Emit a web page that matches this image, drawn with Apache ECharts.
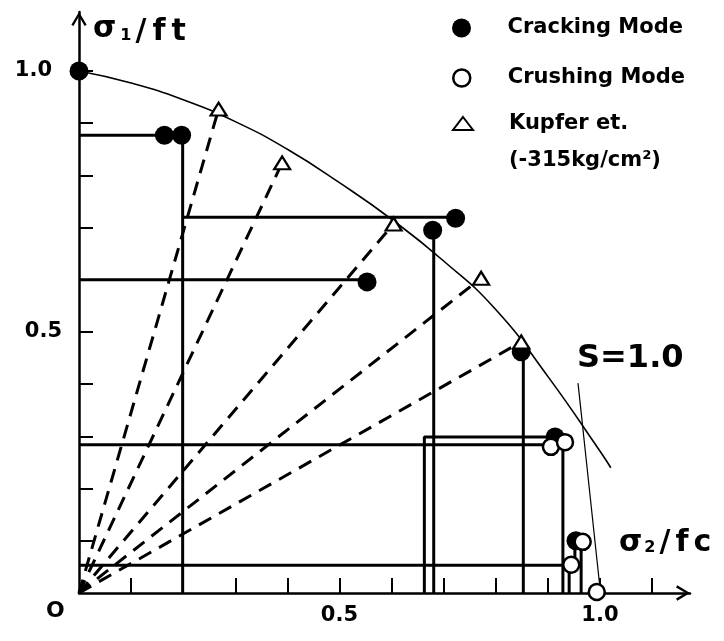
<!DOCTYPE html>
<html>
<head>
<meta charset="utf-8">
<script src="https://cdn.jsdelivr.net/npm/echarts@6/dist/echarts.min.js"></script>
<style>
  html, body { margin: 0; padding: 0; background: #fff; }
  #chart { width: 724px; height: 641px; }
</style>
</head>
<body>
<div id="chart"></div>
<script>
// Biaxial strength envelope, normalised stresses (σ2/fc, σ1/ft)
const envelope = [
  [0, 1.0], [0.1, 0.977], [0.2, 0.945], [0.3, 0.903], [0.4, 0.850], [0.5, 0.786],
  [0.6, 0.716], [0.7, 0.636], [0.8, 0.543], [0.9, 0.415], [1.0, 0.272], [1.021, 0.240]
];
// S = 1.0 line
const strengthLine = [[0.958, 0.402], [1.0, 0.011]];
// Test results
const crackingPoints = [
  [0, 1.0], [0.164, 0.877], [0.197, 0.877], [0.553, 0.596], [0.723, 0.718],
  [0.679, 0.695], [0.849, 0.462], [0.914, 0.299], [0.954, 0.100]
];
const crushingPoints = [
  [0.906, 0.280], [0.933, 0.289], [0.945, 0.054], [0.967, 0.098], [0.994, 0.002]
];
// Kupfer et al. (-315 kg/cm2), reached along proportional load paths
const kupferPoints = [
  [0.268, 0.927], [0.390, 0.824], [0.604, 0.707], [0.772, 0.603], [0.849, 0.481]
];
// Stepped load paths of the specimens
const loadPaths = [
  [[0, 0.877], [0.197, 0.877]],
  [[0.199, 0.877], [0.199, 0]],
  [[0.199, 0.720], [0.723, 0.720]],
  [[0, 0.600], [0.553, 0.600]],
  [[0.681, 0.695], [0.681, 0]],
  [[0.853, 0.462], [0.853, 0]],
  [[0.663, 0], [0.663, 0.299], [0.914, 0.299]],
  [[0, 0.284], [0.906, 0.284]],
  [[0.929, 0.289], [0.929, 0]],
  [[0, 0.053], [0.945, 0.053]],
  [[0.941, 0.054], [0.941, 0]],
  [[0.952, 0.100], [0.952, 0.054]],
  [[0.964, 0.098], [0.964, 0]]
];
const xTicks = [0.1, 0.2, 0.3, 0.4, 0.5, 0.6, 0.7, 0.8, 0.9, 1.0, 1.1];
const yTicks = [0.1, 0.2, 0.3, 0.4, 0.5, 0.6, 0.7, 0.8, 0.9, 1.0];
const xLabels = [0.5, 1.0];
const yLabels = [0.5, 1.0];

const FONT = '"DejaVu Sans", sans-serif';
const INK = '#000';
const chevron = 'path://M0,10 L6,0 L12,10 L10.4,11 L6,3.4 L1.6,11 Z';

const series = [];

// proportional load paths to Kupfer's points
kupferPoints.forEach(function (p, i) {
  series.push({
    name: 'radial' + i, type: 'line', data: [[0, 0], p], showSymbol: false, silent: true,
    lineStyle: { color: INK, width: 3, type: [14, 9] }, z: 1
  });
});
loadPaths.forEach(function (path, i) {
  series.push({
    name: 'path' + i, type: 'line', data: path, showSymbol: false, silent: true,
    lineStyle: { color: INK, width: 3 }, z: 2
  });
});
series.push({
  name: 'envelope', type: 'line', data: envelope, smooth: 0.5,
  showSymbol: false, silent: true,
  lineStyle: { color: INK, width: 1.6 }, z: 3
});
series.push({
  name: 'S=1.0', type: 'line', data: strengthLine, showSymbol: false, silent: true,
  lineStyle: { color: INK, width: 1.2 }, z: 3
});
series.push({
  name: 'Cracking Mode', type: 'scatter', data: crackingPoints, symbol: 'circle', symbolSize: 19,
  itemStyle: { color: INK, opacity: 1 }, silent: true, z: 5
});
series.push({
  name: 'Crushing Mode', type: 'scatter', data: crushingPoints, symbol: 'circle', symbolSize: 16,
  itemStyle: { color: '#fff', borderColor: INK, borderWidth: 2.5, opacity: 1 }, silent: true, z: 6
});
series.push({
  name: 'Kupfer et.', type: 'scatter', data: kupferPoints, symbol: 'triangle', symbolSize: [16, 13],
  itemStyle: { color: '#fff', borderColor: INK, borderWidth: 2.2, opacity: 1 }, silent: true, z: 7
});

const legendText = { fontFamily: FONT, fontWeight: 'bold', fontSize: 21, color: INK };

const option = {
  backgroundColor: '#fff',
  animation: false,
  grid: { left: 79, top: 12, width: 611, height: 581 },
  xAxis: {
    type: 'value', min: 0, max: 1.173,
    splitLine: { show: false },
    axisLine: { lineStyle: { color: INK, width: 2.5 }, symbol: ['none', chevron], symbolSize: [16, 14], symbolOffset: [0, -7] },
    axisTick: { inside: true, length: 15, customValues: xTicks, lineStyle: { color: INK, width: 2 } },
    axisLabel: {
      customValues: xLabels, margin: 12, color: INK, fontFamily: FONT, fontWeight: 'bold', fontSize: 21,
      formatter: function (v) { return v.toFixed(1); }
    }
  },
  yAxis: {
    type: 'value', min: 0, max: 1.113,
    splitLine: { show: false },
    axisLine: { lineStyle: { color: INK, width: 2.5 }, symbol: ['none', chevron], symbolSize: [16, 14], symbolOffset: [0, -7] },
    axisTick: { inside: true, length: 14, customValues: yTicks, lineStyle: { color: INK, width: 2 } },
    axisLabel: {
      customValues: yLabels, margin: 17, color: INK, fontFamily: FONT, fontWeight: 'bold', fontSize: 21,
      formatter: function (v) { return v === 1 ? '{far|' + v.toFixed(1) + '}' : v.toFixed(1); },
      rich: { far: { padding: [0, 10, 0, 0], color: INK, fontFamily: FONT, fontWeight: 'bold', fontSize: 21 } }
    }
  },
  legend: [
    {
      data: ['Cracking Mode'], left: 452, top: 16, orient: 'vertical', padding: 0, selectedMode: false,
      itemWidth: 20, itemHeight: 19,
      textStyle: Object.assign({ lineHeight: 24, padding: [0, 0, 0, 31] }, legendText)
    },
    {
      data: ['Crushing Mode'], left: 452, top: 66, orient: 'vertical', padding: 0, selectedMode: false,
      itemWidth: 20, itemHeight: 17,
      itemStyle: { color: '#fff', borderColor: INK, borderWidth: 2.5 },
      textStyle: Object.assign({ lineHeight: 24, padding: [0, 0, 0, 31] }, legendText)
    },
    {
      data: ['Kupfer et.'], left: 452, top: 68, orient: 'vertical', padding: 0, selectedMode: false,
      itemWidth: 20, itemHeight: 13,
      itemStyle: { color: '#fff', borderColor: INK, borderWidth: 2 },
      // blank first line keeps the icon level with "Kupfer et."
      formatter: function (name) { return '\n' + name + '\n(-315kg/cm²)'; },
      textStyle: Object.assign({ lineHeight: 37, padding: [0, 0, 0, 31] }, legendText)
    }
  ],
  graphic: [
    {
      type: 'text', left: 93, top: 14,
      style: {
        text: '{s|σ}{b|1}{n|/}{f|f}{f|t}',
        rich: {
          s: { fontFamily: FONT, fontWeight: 'bold', fontSize: 30, fill: INK, padding: [0, 3, 6, 0] },
          b: { fontFamily: FONT, fontWeight: 'bold', fontSize: 16, fill: INK, padding: [8, 4, 0, 1] },
          n: { fontFamily: FONT, fontWeight: 'bold', fontSize: 30, fill: INK, padding: [0, 4, 0, 0] },
          f: { fontFamily: FONT, fontWeight: 'bold', fontSize: 30, fill: INK, padding: [0, 4, 0, 2] }
        }
      }
    },
    {
      type: 'text', left: 619, top: 528,
      style: {
        text: '{s|σ}{b|2}{n|/}{f|f}{f|c}',
        rich: {
          s: { fontFamily: FONT, fontWeight: 'bold', fontSize: 30, fill: INK, padding: [0, 2, 0, 0] },
          b: { fontFamily: FONT, fontWeight: 'bold', fontSize: 16, fill: INK, padding: [10, 4, 0, 0] },
          n: { fontFamily: FONT, fontWeight: 'bold', fontSize: 30, fill: INK, padding: [0, 3, 0, 0] },
          f: { fontFamily: FONT, fontWeight: 'bold', fontSize: 30, fill: INK, padding: [0, 3, 0, 2] }
        }
      }
    },
    {
      type: 'text', left: 577, top: 343,
      style: { text: 'S=1.0', fontFamily: FONT, fontWeight: 'bold', fontSize: 32, fill: INK }
    },
    {
      type: 'text', left: 46, top: 600,
      style: { text: 'O', fontFamily: FONT, fontWeight: 'bold', fontSize: 22, fill: INK }
    }
  ],
  series: series
};

const chart = echarts.init(document.getElementById('chart'), null, { renderer: 'canvas' });
chart.setOption(option);
</script>
</body>
</html>
